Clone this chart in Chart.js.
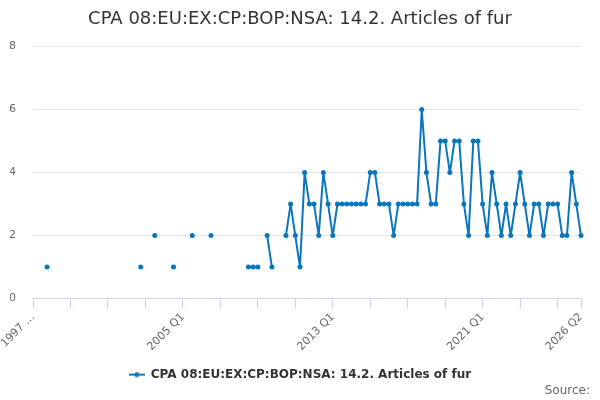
<!DOCTYPE html>
<html>
<head>
<meta charset="utf-8">
<script src="https://cdn.jsdelivr.net/npm/chart.js@4"></script>
<style>
  html, body { margin: 0; padding: 0; background: #ffffff; }
  #wrap { width: 600px; height: 400px; }
</style>
</head>
<body>
<div id="wrap"><canvas id="c" width="600" height="400"></canvas></div>
<script>
// ---- Data ----
const startYear = 1997;
const endYear = 2026;
const endQuarter = 2;
const quarters = [];
for (let y = startYear; y <= endYear; y++) {
  for (let q = 1; q <= 4; q++) {
    if (y === endYear && q > endQuarter) break;
    quarters.push(y + ' Q' + q);
  }
}
const seriesName = 'CPA 08:EU:EX:CP:BOP:NSA: 14.2. Articles of fur';
const values = [
  null, null, null, 1, null, null, null, null, null, null,
  null, null, null, null, null, null, null, null, null, null,
  null, null, null, 1, null, null, 2, null, null, null,
  1, null, null, null, 2, null, null, null, 2, null,
  null, null, null, null, null, null, 1, 1, 1, null,
  2, 1, null, null, 2, 3, 2, 1, 4, 3,
  3, 2, 4, 3, 2, 3, 3, 3, 3, 3,
  3, 3, 4, 4, 3, 3, 3, 2, 3, 3,
  3, 3, 3, 6, 4, 3, 3, 5, 5, 4,
  5, 5, 3, 2, 5, 5, 3, 2, 4, 3,
  2, 3, 2, 3, 4, 3, 2, 3, 3, 2,
  3, 3, 3, 2, 2, 4, 3, 2
];
const labelledTicks = ['1997 Q1', '2005 Q1', '2013 Q1', '2021 Q1', '2026 Q2'];
const firstTickText = '1997 \u2026';
const yTicks = [0, 2, 4, 6, 8];

// ---- Style ----
const lineColor = '#0a77bd';
const FONT = "'DejaVu Sans', sans-serif";

function legendSymbol() {
  const cv = document.createElement('canvas');
  cv.width = 16; cv.height = 6;
  const g = cv.getContext('2d');
  g.strokeStyle = lineColor; g.lineWidth = 2;
  g.beginPath(); g.moveTo(0, 3); g.lineTo(16, 3); g.stroke();
  g.fillStyle = lineColor;
  g.beginPath(); g.arc(8, 3, 2.5, 0, Math.PI * 2); g.fill();
  return cv;
}
const sym = legendSymbol();

function isMinorTick(i) {
  return i % 8 === 0 || i === quarters.length - 1;
}

new Chart(document.getElementById('c'), {
  type: 'line',
  data: {
    labels: quarters,
    datasets: [{
      label: seriesName,
      data: values,
      borderColor: lineColor,
      backgroundColor: lineColor,
      borderWidth: 2,
      borderJoinStyle: 'round',
      borderCapStyle: 'round',
      pointRadius: 2.5,
      pointHoverRadius: 4,
      pointBackgroundColor: lineColor,
      pointBorderWidth: 0,
      tension: 0,
      spanGaps: false,
      fill: false
    }]
  },
  options: {
    responsive: false,
    animation: false,
    devicePixelRatio: 1,
    layout: { padding: { left: 10, right: 10, top: 0, bottom: 0 } },
    plugins: {
      title: {
        display: true,
        text: seriesName,
        color: '#333333',
        font: { family: FONT, size: 18, weight: 'normal' },
        padding: { top: 9, bottom: 16 }
      },
      subtitle: {
        display: true,
        text: 'Source:',
        position: 'bottom',
        align: 'end',
        color: '#666666',
        font: { family: FONT, size: 12, weight: 'normal' },
        padding: { top: -7, bottom: 2 }
      },
      legend: {
        display: true,
        position: 'bottom',
        labels: {
          color: '#333333',
          font: { family: FONT, size: 12, weight: 'bold' },
          usePointStyle: true,
          pointStyleWidth: 16,
          padding: 3,
          generateLabels: function(chart) {
            return chart.data.datasets.map(function(ds, i) {
              return {
                text: ds.label,
                pointStyle: sym,
                fillStyle: lineColor,
                strokeStyle: lineColor,
                lineWidth: 0,
                hidden: false,
                datasetIndex: i,
                fontColor: '#333333'
              };
            });
          }
        }
      },
      tooltip: { enabled: false }
    },
    scales: {
      x: {
        type: 'category',
        offset: false,
        grid: {
          drawOnChartArea: false,
          drawTicks: true,
          tickLength: 10,
          color: function(ctx) { return isMinorTick(ctx.index) ? '#ccd6eb' : 'rgba(0,0,0,0)'; },
          tickColor: function(ctx) { return isMinorTick(ctx.index) ? '#ccd6eb' : 'rgba(0,0,0,0)'; },
          lineWidth: 1
        },
        border: { display: true, color: '#ccd6eb', width: 1 },
        ticks: {
          autoSkip: false,
          minRotation: 45,
          maxRotation: 45,
          padding: 2,
          color: '#666666',
          font: { family: FONT, size: 11 },
          callback: function(value, index) {
            const lab = quarters[index];
            if (labelledTicks.indexOf(lab) === -1) return '';
            if (index === 0) return firstTickText;
            return lab;
          }
        },
        afterFit: function(scale) {
          scale.height = 67;
          scale.paddingLeft = 0;
          scale.paddingRight = 19;
        }
      },
      y: {
        min: 0,
        max: 8,
        grid: {
          color: '#e6e6e6',
          lineWidth: 1,
          drawTicks: false
        },
        border: { display: false },
        afterBuildTicks: function(scale) {
          scale.ticks = yTicks.map(function(v) { return { value: v }; });
        },
        ticks: {
          padding: 17,
          color: '#666666',
          font: { family: FONT, size: 11 }
        },
        afterFit: function(scale) {
          scale.width = 23;
        }
      }
    }
  }
});
</script>
</body>
</html>
